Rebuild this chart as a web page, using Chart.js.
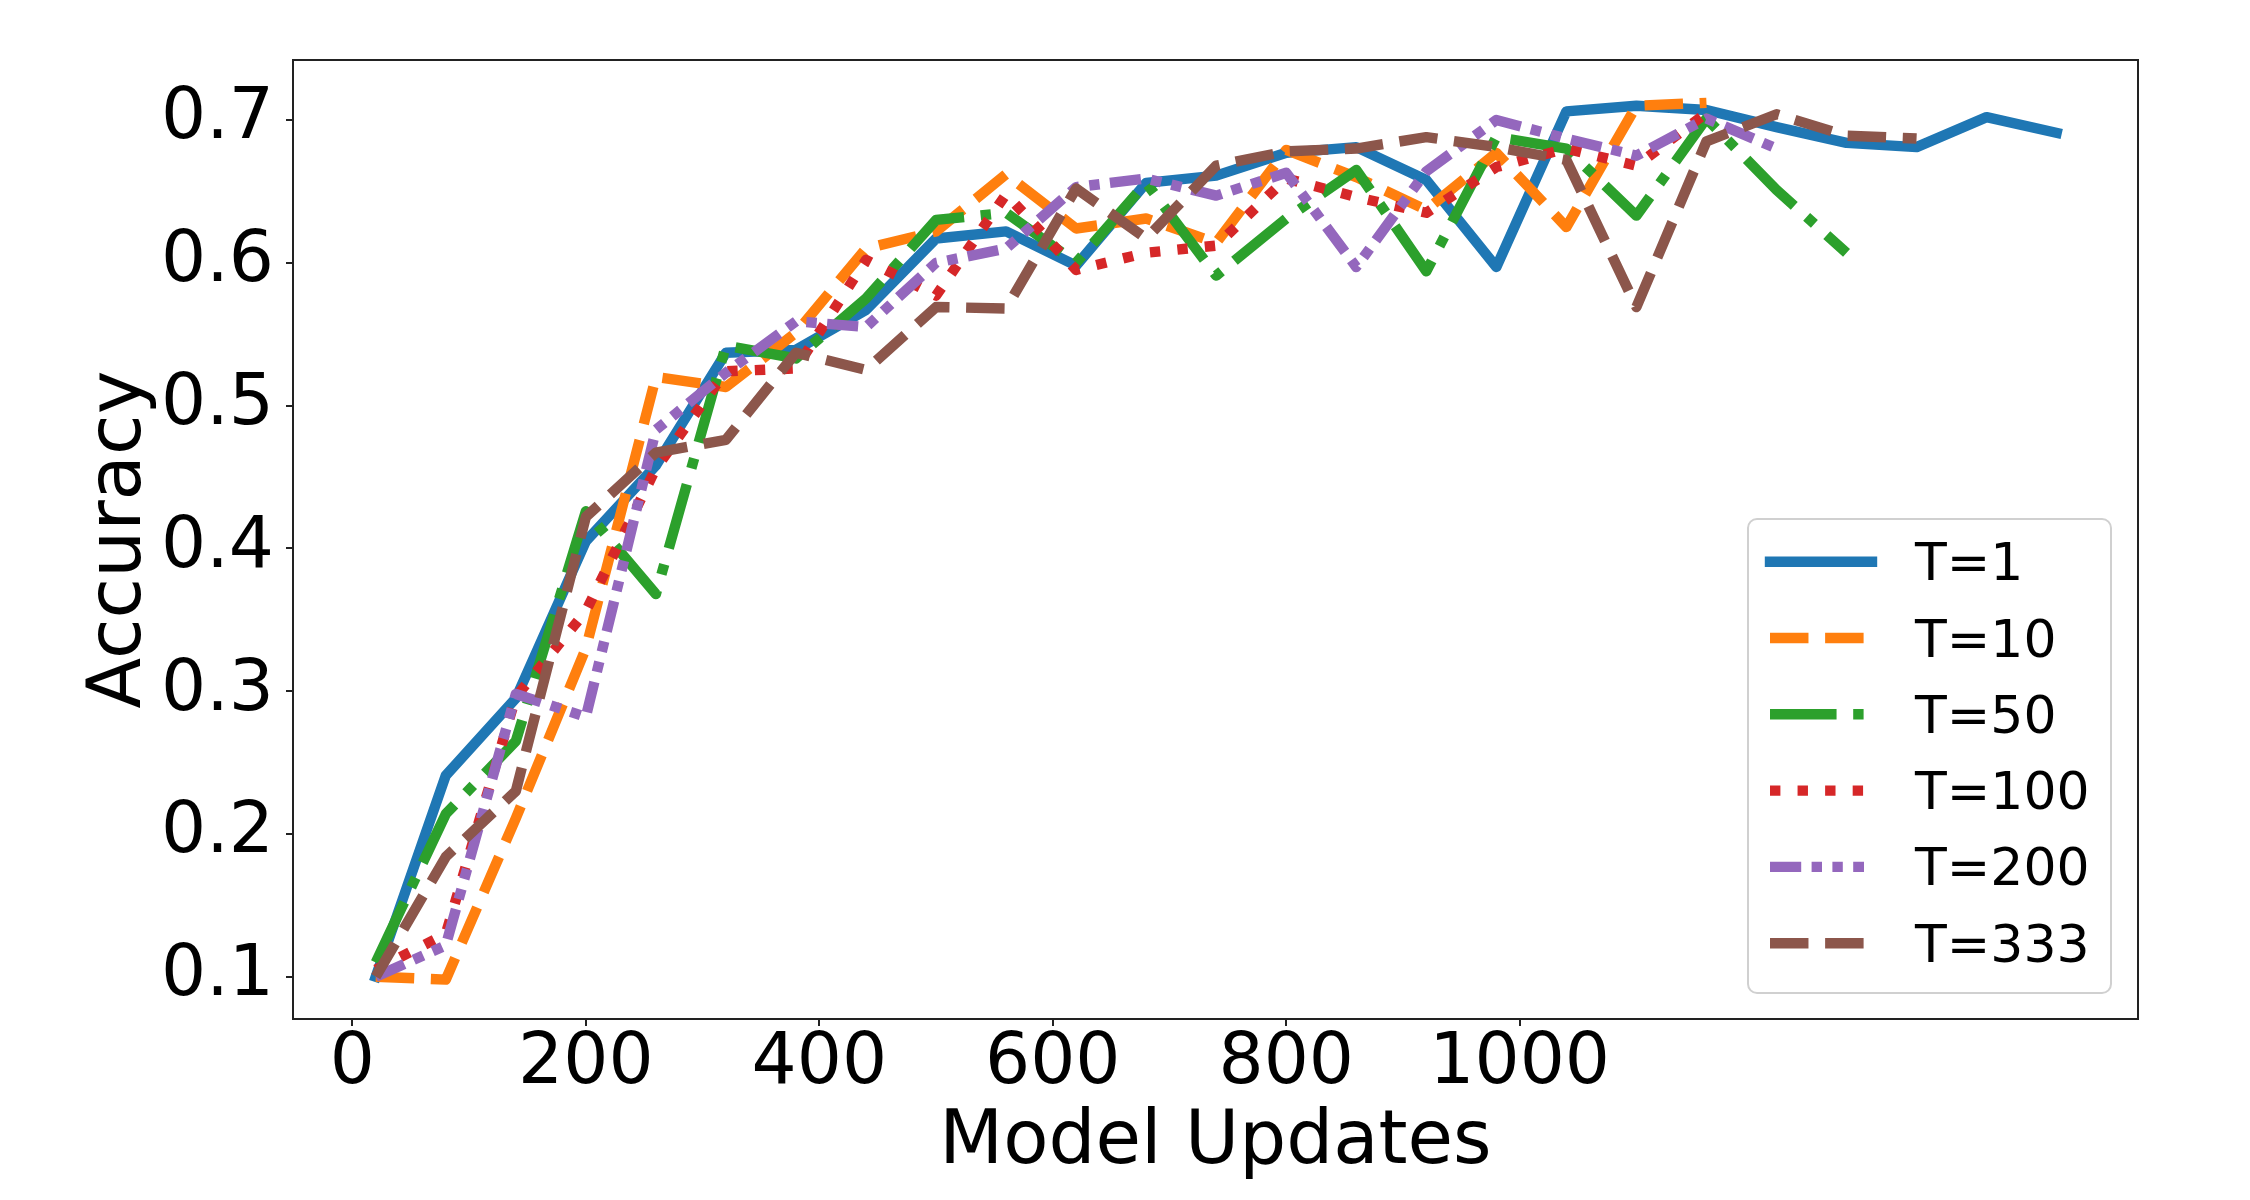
<!DOCTYPE html>
<html>
<head>
<meta charset="utf-8">
<script src="https://cdn.jsdelivr.net/npm/chart.js@4.4.1/dist/chart.umd.min.js"></script>
<style>
html,body{margin:0;padding:0;background:#ffffff;}
#wrap{position:relative;width:2250px;height:1200px;}
</style>
</head>
<body>
<div id="wrap"><canvas id="c" width="2250" height="1200"></canvas></div>
<script>
// ---- data ----
const updates = [20, 80, 140, 200, 260, 320, 380, 440, 500, 560, 620, 680, 740, 800, 860, 920, 980, 1040, 1100, 1160, 1220, 1280, 1340, 1400, 1460];
const seriesLabels = ['T=1', 'T=10', 'T=50', 'T=100', 'T=200', 'T=333'];
const accT1   = [0.100, 0.241, 0.295, 0.405, 0.458, 0.537, 0.539, 0.567, 0.617, 0.622, 0.598, 0.656, 0.661, 0.677, 0.681, 0.658, 0.597, 0.706, 0.710, 0.707, 0.695, 0.684, 0.681, 0.702, 0.691];
const accT10  = [0.100, 0.098, 0.211, 0.330, 0.520, 0.513, 0.551, 0.610, 0.622, 0.662, 0.624, 0.631, 0.614, 0.679, 0.660, 0.637, 0.677, 0.625, 0.710, 0.712];
const accT50  = [0.110, 0.214, 0.265, 0.426, 0.368, 0.542, 0.533, 0.575, 0.630, 0.635, 0.600, 0.656, 0.591, 0.631, 0.665, 0.594, 0.688, 0.680, 0.633, 0.701, 0.651, 0.607];
const accT100 = [0.105, 0.130, 0.296, 0.356, 0.456, 0.524, 0.526, 0.602, 0.577, 0.648, 0.595, 0.607, 0.612, 0.659, 0.646, 0.635, 0.667, 0.680, 0.668, 0.705];
const accT200 = [0.100, 0.122, 0.298, 0.282, 0.483, 0.523, 0.559, 0.555, 0.600, 0.610, 0.653, 0.659, 0.647, 0.663, 0.597, 0.664, 0.700, 0.687, 0.675, 0.701, 0.680];
const accT333 = [0.100, 0.184, 0.230, 0.422, 0.467, 0.476, 0.537, 0.525, 0.569, 0.568, 0.652, 0.617, 0.668, 0.678, 0.680, 0.688, 0.681, 0.672, 0.569, 0.685, 0.704, 0.689, 0.687];
const xTickValues = [0, 200, 400, 600, 800, 1000];
const yTickValues = [0.1, 0.2, 0.3, 0.4, 0.5, 0.6, 0.7];

// ---- styles ----
const LW = 10.4;
const colors = ['#1f77b4', '#ff7f0e', '#2ca02c', '#d62728', '#9467bd', '#8c564b'];
const dashes = [
  [],
  [3.7 * LW, 1.6 * LW],
  [6.4 * LW, 1.6 * LW, 1.0 * LW, 1.6 * LW],
  [1.0 * LW, 1.65 * LW],
  [3 * LW, 1 * LW, 1 * LW, 1 * LW, 1 * LW, 1 * LW],
  [3.7 * LW, 1.6 * LW]
];
const seriesValues = [accT1, accT10, accT50, accT100, accT200, accT333];

const datasets = seriesValues.map((vals, i) => ({
  label: seriesLabels[i],
  data: vals.map((v, k) => ({ x: updates[k], y: v })),
  borderColor: colors[i],
  backgroundColor: colors[i],
  borderWidth: LW,
  borderDash: dashes[i],
  borderCapStyle: i === 0 ? 'square' : 'butt',
  borderJoinStyle: 'round',
  pointRadius: 0,
  pointHoverRadius: 0,
  fill: false,
  tension: 0,
  order: seriesValues.length - i
}));

const FONT = "'DejaVu Sans', 'Liberation Sans', sans-serif";

const framePlugin = {
  id: 'frame',
  afterDatasetsDraw(chart) {
    const { ctx, chartArea: a } = chart;
    ctx.save();
    ctx.strokeStyle = '#222222';
    ctx.lineWidth = 2;
    ctx.beginPath();
    ctx.moveTo(a.left, a.top);
    ctx.lineTo(a.right, a.top);
    ctx.lineTo(a.right, a.bottom);
    ctx.stroke();
    ctx.restore();
  }
};

const legendPlugin = {
  id: 'innerLegend',
  afterDraw(chart) {
    const { ctx } = chart;
    const box = { x: 1748, y: 519, w: 363, h: 474, r: 9 };
    ctx.save();
    ctx.beginPath();
    ctx.roundRect(box.x, box.y, box.w, box.h, box.r);
    ctx.fillStyle = 'rgba(255,255,255,0.8)';
    ctx.fill();
    ctx.strokeStyle = '#d0d0d0';
    ctx.lineWidth = 2;
    ctx.stroke();
    const rowH = 76.3;
    chart.data.datasets.forEach((ds, i) => {
      const cy = 561.7 + rowH * i;
      ctx.beginPath();
      ctx.strokeStyle = ds.borderColor;
      ctx.lineWidth = ds.borderWidth;
      ctx.setLineDash(ds.borderDash);
      ctx.lineCap = ds.borderCapStyle;
      ctx.moveTo(1770, cy);
      ctx.lineTo(i === 0 ? 1872 : 1864, cy);
      ctx.stroke();
      ctx.setLineDash([]);
      ctx.fillStyle = '#000000';
      ctx.font = '52px ' + FONT;
      ctx.textAlign = 'left';
      ctx.textBaseline = 'alphabetic';
      ctx.fillText(ds.label, 1915, cy + 18.5);
    });
    ctx.restore();
  }
};

new Chart(document.getElementById('c'), {
  type: 'line',
  data: { datasets },
  options: {
    responsive: false,
    animation: false,
    devicePixelRatio: 1,
    layout: { padding: { top: 60, right: 112, left: 0, bottom: 0 } },
    plugins: { legend: { display: false }, tooltip: { enabled: false } },
    scales: {
      x: {
        type: 'linear',
        min: -50.9,
        max: 1529.7,
        afterBuildTicks(scale) { scale.ticks = xTickValues.map(v => ({ value: v })); },
        afterFit(scale) { scale.height = 181; },
        ticks: {
          autoSkip: false, maxRotation: 0, minRotation: 0,
          color: '#000000',
          padding: 3,
          font: { family: FONT, size: 71, lineHeight: 1 },
          callback: v => String(v)
        },
        grid: { display: true, drawOnChartArea: false, drawTicks: true, tickLength: 7, lineWidth: 2, color: '#222222' },
        border: { display: true, color: '#222222', width: 2 },
        title: { display: true, text: 'Model Updates', color: '#000000', font: { family: FONT, size: 74 }, padding: { top: 0, bottom: 12 } }
      },
      y: {
        type: 'linear',
        min: 0.0704,
        max: 0.742,
        afterBuildTicks(scale) { scale.ticks = yTickValues.map(v => ({ value: v })); },
        afterFit(scale) { scale.width = 293; },
        ticks: {
          color: '#000000',
          padding: 12,
          font: { family: FONT, size: 71 },
          callback: v => Number(v).toFixed(1)
        },
        grid: { display: true, drawOnChartArea: false, drawTicks: true, tickLength: 7, lineWidth: 2, color: '#222222' },
        border: { display: true, color: '#222222', width: 2 },
        title: { display: true, text: 'Accuracy', color: '#000000', font: { family: FONT, size: 74 }, padding: { top: 76, bottom: 0 } }
      }
    }
  },
  plugins: [framePlugin, legendPlugin]
});
</script>
</body>
</html>
